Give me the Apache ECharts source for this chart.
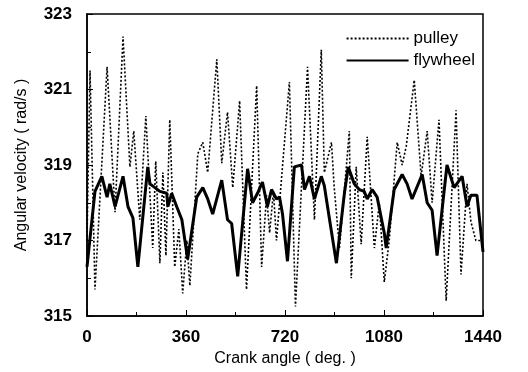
<!DOCTYPE html>
<html><head><meta charset="utf-8">
<script src="https://cdn.jsdelivr.net/npm/echarts@6/dist/echarts.min.js"></script>
<style>html,body{margin:0;padding:0;background:#fff}#c{width:528px;height:372px}</style>
</head><body><div id="c"></div>
<script>
const xTicks = [0, 360, 720, 1080, 1440];
const yTicks = [315, 317, 319, 321, 323];

const flywheelAngle = [0,29,54,73,83,102,131,149,167,185,221,229,265,290,294,308,326,345,366,399,421,439,457,490,511,526,548,584,602,620,638,656,671,689,700,711,729,754,780,791,809,827,852,863,881,907,936,950,972,990,1008,1019,1037,1055,1081,1088,1117,1146,1164,1182,1219,1237,1255,1273,1309,1335,1364,1382,1396,1418,1440];
const flywheelVel = [316.3,318.3,318.7,318.15,318.5,317.9,318.7,317.9,317.6,316.3,318.95,318.5,318.3,318.25,317.9,318.25,317.9,317.55,316.5,318.15,318.4,318.1,317.7,318.6,317.55,317.45,316.05,318.9,318.0,318.25,318.55,317.9,318.35,318.1,318.15,317.7,316.45,318.95,319.0,318.35,318.7,318.1,318.7,318.45,317.6,316.4,318.25,318.95,318.5,318.35,318.3,318.1,318.35,318.15,317.2,316.8,318.35,318.75,318.5,318.1,318.75,318.0,317.8,316.6,319.0,318.4,318.7,317.9,318.2,318.2,316.7];

const pulleyAngle = [0,11,29,73,102,131,156,170,192,214,239,250,265,276,287,301,319,334,348,363,374,403,421,439,472,490,511,530,555,580,617,635,653,664,678,689,736,758,802,827,852,863,889,899,918,954,961,979,997,1019,1045,1063,1081,1099,1128,1146,1161,1190,1215,1237,1255,1280,1306,1342,1360,1382,1396,1414,1440];
const pulleyVel = [317.0,321.5,315.7,321.6,317.75,322.4,318.95,319.9,317.55,320.3,316.8,319.1,316.4,318.8,316.6,320.2,316.3,317.3,315.6,317.0,315.8,319.3,319.6,318.8,321.8,319.05,320.4,318.4,320.7,315.7,321.1,316.3,318.2,317.2,318.3,317.0,321.2,315.25,321.6,317.55,322.05,318.8,319.6,318.4,316.8,319.9,316.0,318.95,316.9,319.75,316.8,318.0,315.9,317.0,319.6,319.0,319.5,321.25,318.7,319.9,318.0,320.2,315.4,320.45,316.1,318.5,317.5,317.0,317.0];

const pair = (a, b) => a.map((v, i) => [v, b[i]]);
const font = 'Liberation Sans, Arial, sans-serif';

const chart = echarts.init(document.getElementById('c'), null, {renderer: 'canvas'});
chart.setOption({
  animation: false,
  backgroundColor: '#fff',
  grid: {left: 87, right: 45, top: 14, bottom: 56, show: true, borderColor: '#000', borderWidth: 1.5, backgroundColor: 'transparent'},
  legend: {
    orient: 'vertical', right: 48, top: 25, itemWidth: 62, itemHeight: 14, itemGap: 5,
    itemStyle: {opacity: 0},
    textStyle: {fontFamily: font, fontSize: 17, color: '#000'},
    data: ['pulley', 'flywheel']
  },
  xAxis: {
    type: 'value', min: xTicks[0], max: xTicks[xTicks.length-1], interval: 360,
    name: 'Crank angle ( deg. )', nameLocation: 'middle', nameGap: 32,
    nameTextStyle: {fontFamily: font, fontSize: 16, color: '#000'},
    axisLine: {lineStyle: {color: '#000', width: 1.5}},
    axisTick: {inside: true, length: 6, lineStyle: {color: '#000'}},
    minorTick: {show: true, splitNumber: 2, length: 4, lineStyle: {color: '#000'}},
    axisLabel: {fontFamily: font, fontSize: 17, color: '#000', margin: 13, fontWeight: 'bold', formatter: v => String(v)},
    splitLine: {show: false}
  },
  yAxis: {
    type: 'value', min: yTicks[0], max: yTicks[yTicks.length-1], interval: 2,
    name: 'Angular velocity ( rad/s )', nameLocation: 'middle', nameGap: 57,
    nameTextStyle: {fontFamily: font, fontSize: 16, color: '#000'},
    axisLine: {lineStyle: {color: '#000', width: 1.5}},
    axisTick: {inside: true, length: 6, lineStyle: {color: '#000'}},
    minorTick: {show: true, splitNumber: 2, length: 4, lineStyle: {color: '#000'}},
    axisLabel: {fontFamily: font, fontSize: 17, color: '#000', margin: 15, fontWeight: 'bold', formatter: v => String(v)},
    splitLine: {show: false}
  },
  series: [
    {name: 'pulley', type: 'line', symbol: 'none', data: pair(pulleyAngle, pulleyVel),
     lineStyle: {color: '#000', width: 1.6, type: [2, 2]}, itemStyle: {color: '#000'}},
    {name: 'flywheel', type: 'line', symbol: 'none', data: pair(flywheelAngle, flywheelVel),
     lineStyle: {color: '#000', width: 3}, itemStyle: {color: '#000'}}
  ]
});
</script></body></html>
